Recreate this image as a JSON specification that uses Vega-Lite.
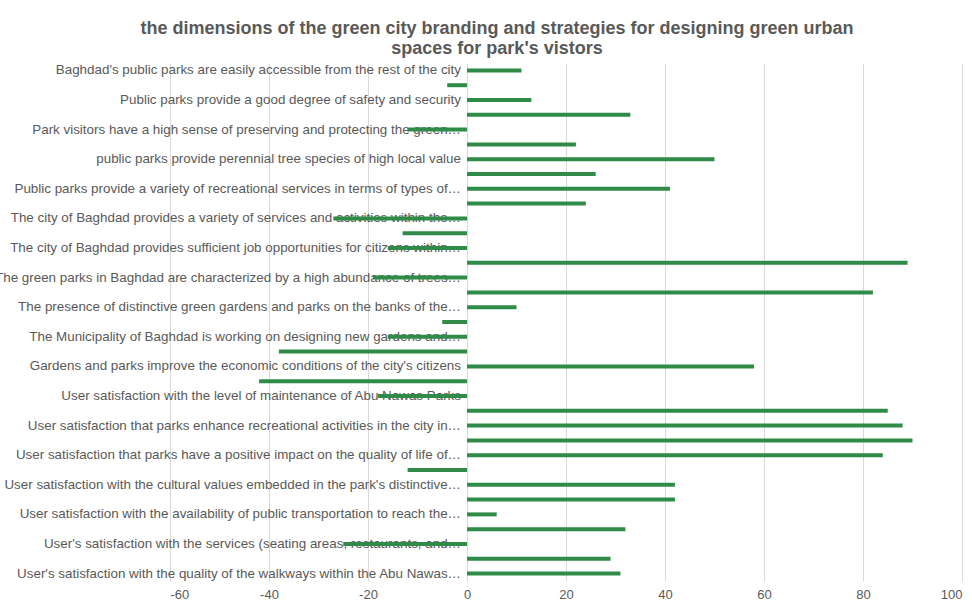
{
  "$schema": "https://vega.github.io/schema/vega-lite/v6.json",
  "width": 792,
  "height": 518,
  "autosize": {"type": "none"},
  "padding": {"left": 170, "top": 63, "right": 10, "bottom": 29},
  "background": "white",
  "config": {"view": {"stroke": null}},
  "title": {
    "text": ["the dimensions of the green city branding and strategies for designing green urban", "spaces for park's vistors"],
    "font": "Liberation Sans",
    "fontSize": 18,
    "fontWeight": "bold",
    "color": "#595959",
    "anchor": "middle",
    "dx": -69,
    "offset": 5,
    "lineHeight": 20
  },
  "data": {
    "values": [
      {"id": 1, "label": "Baghdad's public parks are easily accessible from the rest of the city", "value": 11},
      {"id": 2, "label": "", "value": -4},
      {"id": 3, "label": "Public parks provide a good degree of safety and security", "value": 13},
      {"id": 4, "label": "", "value": 33},
      {"id": 5, "label": "Park visitors have a high sense of preserving and protecting the green…", "value": -12},
      {"id": 6, "label": "", "value": 22},
      {"id": 7, "label": "public parks provide perennial tree species of high local value", "value": 50},
      {"id": 8, "label": "", "value": 26},
      {"id": 9, "label": "Public parks provide a variety of recreational services in terms of types of…", "value": 41},
      {"id": 10, "label": "", "value": 24},
      {"id": 11, "label": "The city of Baghdad provides a variety of services and activities within the…", "value": -27},
      {"id": 12, "label": "", "value": -13},
      {"id": 13, "label": "The city of Baghdad provides sufficient job opportunities for citizens within…", "value": -16},
      {"id": 14, "label": "", "value": 89},
      {"id": 15, "label": "The green parks in Baghdad are characterized by a high abundance of trees…", "value": -19},
      {"id": 16, "label": "", "value": 82},
      {"id": 17, "label": "The presence of distinctive green gardens and parks on the banks of the…", "value": 10},
      {"id": 18, "label": "", "value": -5},
      {"id": 19, "label": "The Municipality of Baghdad is working on designing new gardens and…", "value": -16},
      {"id": 20, "label": "", "value": -38},
      {"id": 21, "label": "Gardens and parks improve the economic conditions of the city's citizens", "value": 58},
      {"id": 22, "label": "", "value": -42},
      {"id": 23, "label": "User satisfaction with the level of maintenance of Abu Nawas Parks", "value": -18},
      {"id": 24, "label": "", "value": 85},
      {"id": 25, "label": "User satisfaction that parks enhance recreational activities in the city in…", "value": 88},
      {"id": 26, "label": "", "value": 90},
      {"id": 27, "label": "User satisfaction that parks have a positive impact on the quality of life of…", "value": 84},
      {"id": 28, "label": "", "value": -12},
      {"id": 29, "label": "User satisfaction with the cultural values embedded in the park's distinctive…", "value": 42},
      {"id": 30, "label": "", "value": 42},
      {"id": 31, "label": "User satisfaction with the availability of public transportation to reach the…", "value": 6},
      {"id": 32, "label": "", "value": 32},
      {"id": 33, "label": "User's satisfaction with the services (seating areas, restaurants, and…", "value": -25},
      {"id": 34, "label": "", "value": 29},
      {"id": 35, "label": "User's satisfaction with the quality of the walkways within the Abu Nawas…", "value": 31}
    ]
  },
  "encoding": {
    "y": {
      "field": "id",
      "type": "ordinal",
      "sort": "ascending",
      "axis": null,
      "scale": {"paddingInner": 0, "paddingOuter": 0}
    }
  },
  "layer": [
    {
      "mark": {
        "type": "text",
        "align": "right",
        "baseline": "middle",
        "dx": -6,
        "font": "Liberation Sans",
        "fontSize": 13.4,
        "color": "#595959"
      },
      "encoding": {
        "x": {"datum": 0, "type": "quantitative"},
        "text": {"field": "label"}
      }
    },
    {
      "mark": {"type": "bar", "color": "#2f8b47", "height": 4},
      "encoding": {
        "x": {
          "field": "value",
          "type": "quantitative",
          "scale": {"domain": [-60, 100], "nice": false, "zero": false},
          "axis": {
            "title": null,
            "values": [-60, -40, -20, 0, 20, 40, 60, 80, 100],
            "labelExpr": "'' + datum.value",
            "grid": true,
            "gridColor": "#d9d9d9",
            "domain": false,
            "ticks": false,
            "labelColor": "#595959",
            "labelFont": "Liberation Sans",
            "labelFontSize": 13,
            "labelPadding": 7
          }
        }
      }
    }
  ]
}
